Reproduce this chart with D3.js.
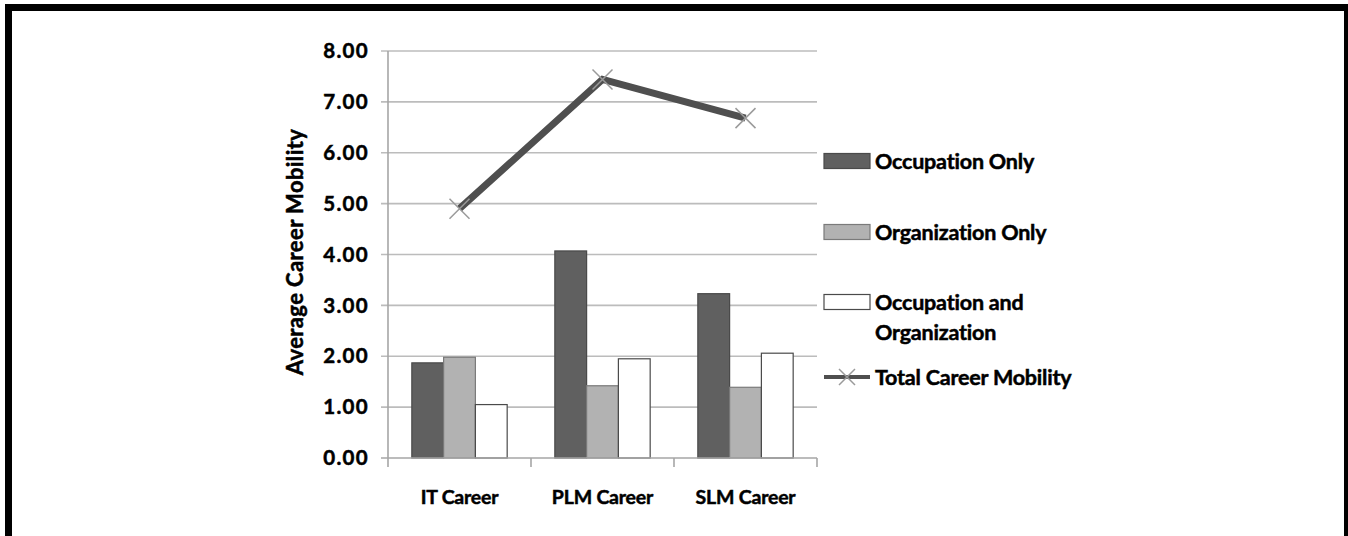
<!DOCTYPE html>
<html><head><meta charset="utf-8">
<script src="https://cdn.jsdelivr.net/npm/d3@7"></script>
<style>html,body{margin:0;padding:0;background:#fff;} svg{display:block;} text{stroke:#000;stroke-width:0.5px;}</style>
</head><body>
<script>
const categories = ["IT Career", "PLM Career", "SLM Career"];
const seriesNames = ["Occupation Only", "Organization Only", "Occupation and Organization"];
const occupationOnly = [1.87, 4.07, 3.23];
const organizationOnly = [1.98, 1.42, 1.39];
const occAndOrg = [1.05, 1.95, 2.06];
const totalMobility = [4.90, 7.44, 6.68];
const lineName = "Total Career Mobility";
const yTicks = [0, 1, 2, 3, 4, 5, 6, 7, 8];
const yTitle = "Average Career Mobility";

const W = 1348, H = 536;
const FONT = "Lato, 'Open Sans', sans-serif";
const WEIGHT = 700;
const svg = d3.select("body").append("svg").attr("width", W).attr("height", H);
svg.append("rect").attr("width", W).attr("height", H).attr("fill", "#fff");

// frame
svg.append("rect").attr("x", 5).attr("y", 4).attr("width", W - 5).attr("height", 7).attr("fill", "#000");
svg.append("rect").attr("x", 5).attr("y", 4).attr("width", 7).attr("height", H - 4).attr("fill", "#000");
svg.append("rect").attr("x", 1344).attr("y", 4).attr("width", 4).attr("height", H - 4).attr("fill", "#000");

const x0 = d3.scaleBand().domain(categories).range([388, 817]).padding(0);
const x1 = d3.scaleBand().domain(seriesNames).range([0, x0.bandwidth()]).paddingInner(0).paddingOuter(0.75);
const y = d3.scaleLinear().domain([0, 8]).range([458, 51]);

const colors = ["#606060", "#b2b2b2", "#ffffff"];
const strokes = ["#4a4a4a", "#7a7a7a", "#4a4a4a"];
const seriesData = [occupationOnly, organizationOnly, occAndOrg];

// gridlines
svg.append("g").selectAll("line").data(yTicks.filter(d => d > 0)).join("line")
  .attr("x1", 381).attr("x2", 817)
  .attr("y1", d => y(d)).attr("y2", d => y(d))
  .attr("stroke", "#bcbcbc").attr("stroke-width", 1.6);

// y tick labels
svg.append("g").selectAll("text").data(yTicks).join("text")
  .attr("x", 369).attr("y", d => y(d))
  .attr("dy", "0.35em").attr("text-anchor", "end")
  .attr("font-family", FONT).attr("font-weight", WEIGHT).attr("font-size", 20.5)
  .attr("letter-spacing", 1.3)
  .attr("fill", "#000")
  .text(d => d3.format(".2f")(d));

// y title
svg.append("text")
  .attr("transform", "translate(303,252) rotate(-90)")
  .attr("text-anchor", "middle")
  .attr("font-family", FONT).attr("font-weight", WEIGHT).attr("font-size", 22)
  .attr("letter-spacing", 0.4)
  .text(yTitle);

// bars
seriesNames.forEach((s, si) => {
  svg.append("g").selectAll("rect").data(categories).join("rect")
    .attr("x", c => x0(c) + x1(s))
    .attr("y", (c, i) => y(seriesData[si][i]))
    .attr("width", x1.bandwidth())
    .attr("height", (c, i) => y(0) - y(seriesData[si][i]))
    .attr("fill", colors[si]).attr("stroke", strokes[si]).attr("stroke-width", 1.2);
});

// axes lines
svg.append("line").attr("x1", 388).attr("x2", 388).attr("y1", y(8)).attr("y2", 467)
  .attr("stroke", "#a6a6a6").attr("stroke-width", 1.6);
svg.append("line").attr("x1", 381).attr("x2", 817).attr("y1", y(0)).attr("y2", y(0))
  .attr("stroke", "#a6a6a6").attr("stroke-width", 1.6);
const bounds = categories.map(c => x0(c) + x0.bandwidth());
svg.append("g").selectAll("line").data(bounds).join("line")
  .attr("x1", d => d).attr("x2", d => d).attr("y1", y(0)).attr("y2", 467)
  .attr("stroke", "#a6a6a6").attr("stroke-width", 1.6);

// x labels
svg.append("g").selectAll("text").data(categories).join("text")
  .attr("x", c => x0(c) + x0.bandwidth() / 2).attr("y", 504)
  .attr("text-anchor", "middle")
  .attr("font-family", FONT).attr("font-weight", WEIGHT).attr("font-size", 19.5)
  .attr("letter-spacing", -0.2)
  .text(c => c);

// line
const pts = categories.map((c, i) => [x0(c) + x0.bandwidth() / 2, y(totalMobility[i])]);
svg.append("path").attr("d", d3.line()(pts)).attr("fill", "none")
  .attr("stroke", "#4f4f4f").attr("stroke-width", 7).attr("stroke-linejoin", "miter");
function xMark(g, cx, cy, r) {
  g.append("path").attr("d", `M${cx - r},${cy - r}L${cx + r},${cy + r}M${cx - r},${cy + r}L${cx + r},${cy - r}`)
    .attr("stroke", "#9a9a9a").attr("stroke-width", 1.5).attr("fill", "none");
}
const mg = svg.append("g");
pts.forEach(p => xMark(mg, p[0], p[1], 10));

// legend
const lg = svg.append("g");
const legY = [161, 232, 302];
seriesNames.forEach((s, i) => {
  lg.append("rect").attr("x", 824).attr("y", legY[i] - 7.5).attr("width", 46).attr("height", 15)
    .attr("fill", colors[i]).attr("stroke", strokes[i]).attr("stroke-width", 1.2);
});
const legText = [["Occupation Only"], ["Organization Only"], ["Occupation and", "Organization"]];
legText.forEach((lines, i) => {
  lines.forEach((t, j) => {
    lg.append("text").attr("x", 875).attr("y", legY[i] + j * 30).attr("dy", "0.35em")
      .attr("font-family", FONT).attr("font-weight", WEIGHT).attr("font-size", 21.5)
      .attr("letter-spacing", -0.2).text(t);
  });
});
lg.append("line").attr("x1", 824).attr("x2", 870).attr("y1", 377).attr("y2", 377)
  .attr("stroke", "#4f4f4f").attr("stroke-width", 4);
xMark(lg, 847, 377, 8);
lg.append("text").attr("x", 875).attr("y", 377).attr("dy", "0.35em")
  .attr("font-family", FONT).attr("font-weight", WEIGHT).attr("font-size", 21.5)
  .attr("letter-spacing", -0.2).text(lineName);
</script>
</body></html>
